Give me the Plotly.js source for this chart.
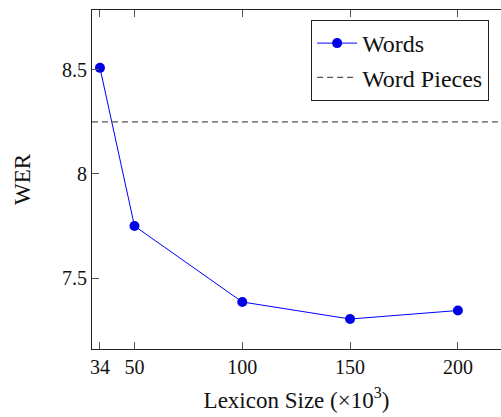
<!DOCTYPE html>
<html><head><meta charset="utf-8">
<script src="https://cdn.plot.ly/plotly-3.0.1.min.js"></script>
<style>html,body{margin:0;padding:0;background:#fff}#c{width:501px;height:417px}</style>
</head><body><div id="c"></div>
<script>
const lexiconSize = [34, 50, 100, 150, 200];
const werWords = [8.51, 7.75, 7.385, 7.303, 7.344];
const wordPiecesX = [30.3, 220];
const wordPiecesWER = [8.25, 8.25];
const xTicks = [34, 50, 100, 150, 200];
const yTicks = [7.5, 8, 8.5];

const font = "'Liberation Serif', 'DejaVu Serif', serif";
const traces = [
  {x: lexiconSize, y: werWords, name: 'Words', mode: 'lines+markers',
   line: {color: 'rgb(0,0,255)', width: 1}, marker: {color: 'rgb(0,0,230)', size: 10}},
  {x: wordPiecesX, y: wordPiecesWER, name: 'Word Pieces', mode: 'lines',
   line: {color: '#555', width: 1.3, dash: '6px,4px'}}
];
const layout = {
  width: 501, height: 417,
  margin: {l: 92, r: 0, t: 10, b: 68},
  paper_bgcolor: '#fff', plot_bgcolor: '#fff',
  font: {family: font, size: 20, color: '#111'},
  showlegend: true,
  legend: {x: 0.971, y: 0.9705, xanchor: 'right', yanchor: 'top',
    bordercolor: '#222', borderwidth: 1, bgcolor: '#fff', itemwidth: 40,
    font: {size: 24, family: font}, tracegroupgap: 0},
  xaxis: {range: [30.3, 220], tickvals: xTicks, ticktext: xTicks.map(String),
    ticks: 'inside', ticklen: 7, tickcolor: '#555', showline: true, linecolor: '#222', linewidth: 1,
    mirror: 'ticks', showgrid: false, zeroline: false,
    title: {text: 'Lexicon Size (×10<sup>3</sup>)', font: {size: 23, family: font}, standoff: 14}},
  yaxis: {range: [7.159, 8.788], tickvals: yTicks, ticktext: ['7.5', '8', '8.5'],
    ticks: 'inside', ticklen: 7, tickcolor: '#555', showline: true, linecolor: '#222', linewidth: 1,
    showgrid: false, zeroline: false,
    title: {text: 'WER', font: {size: 23, family: font}, standoff: 24}}
};
Plotly.newPlot('c', traces, layout, {displayModeBar: false, staticPlot: true});
</script></body></html>
